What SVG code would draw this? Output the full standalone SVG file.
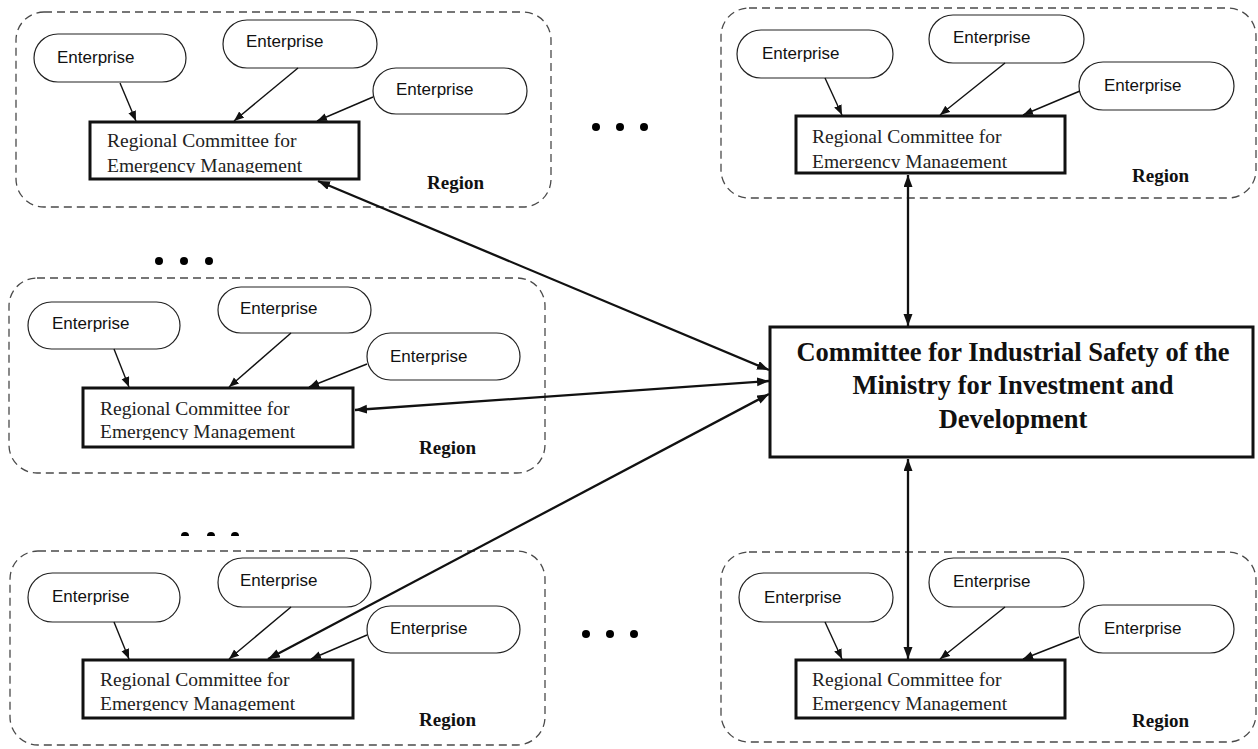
<svg xmlns="http://www.w3.org/2000/svg" width="1258" height="749" viewBox="0 0 1258 749">
<style>
.region{fill:none;stroke:#4a4a4a;stroke-width:1.3;stroke-dasharray:8 5}
.ent{fill:#fff;stroke:#222;stroke-width:1.2}
.entt{font-family:"Liberation Sans",Arial,sans-serif;font-size:17px;fill:#111}
.rc{fill:#fff;stroke:#111;stroke-width:3}
.rct{font-family:"Liberation Serif","Times New Roman",serif;font-size:19.5px;fill:#222}
.rg{font-family:"Liberation Serif","Times New Roman",serif;font-size:19px;font-weight:bold;fill:#111}
.ct{font-family:"Liberation Serif","Times New Roman",serif;font-size:26.5px;font-weight:bold;fill:#111}
.thin{stroke:#111;stroke-width:1.4;fill:none;marker-end:url(#ah)}
.thick{stroke:#111;stroke-width:2.3;fill:none;marker-end:url(#ah2);marker-start:url(#ah2)}
.dot{fill:#000}
</style>
<defs>
<marker id="ah" markerUnits="userSpaceOnUse" markerWidth="11" markerHeight="9" refX="10" refY="4" orient="auto"><path d="M0,0 L10,4 L0,8 z" fill="#111"/></marker>
<marker id="ah2" markerUnits="userSpaceOnUse" markerWidth="13" markerHeight="10" refX="12" refY="4.5" orient="auto-start-reverse"><path d="M0,0 L12,4.5 L0,9 z" fill="#111"/></marker>
<clipPath id="c1"><rect x="90" y="122" width="269" height="51"/></clipPath>
<clipPath id="c2"><rect x="796" y="116" width="269" height="52"/></clipPath>
<clipPath id="c3"><rect x="83" y="388" width="270" height="52"/></clipPath>
<clipPath id="c4"><rect x="83" y="660" width="270" height="51"/></clipPath>
<clipPath id="c5"><rect x="796" y="660" width="269" height="51"/></clipPath>
<clipPath id="cd"><rect x="150" y="480" width="140" height="56"/></clipPath>
</defs>
<rect width="1258" height="749" fill="#fff"/>

<g id="region-tl">
<rect class="region" x="16" y="12" width="535" height="195" rx="28"/>
<g id="tl-e1"><rect class="ent" x="34" y="34" width="152" height="48" rx="24"/><text class="entt" x="57" y="63">Enterprise</text></g>
<g id="tl-e2"><rect class="ent" x="223" y="20" width="154" height="48" rx="24"/><text class="entt" x="246" y="47">Enterprise</text></g>
<g id="tl-e3"><rect class="ent" x="373" y="68" width="154" height="46" rx="23"/><text class="entt" x="396" y="95">Enterprise</text></g>
<g id="tl-rc"><rect class="rc" x="90" y="122" width="269" height="57"/><text class="rct" x="107" y="147">Regional Committee for</text><text class="rct" x="107" y="172" clip-path="url(#c1)">Emergency Management</text></g>
<text class="rg" x="427" y="189">Region</text>
</g>

<g id="region-tr">
<rect class="region" x="721" y="8" width="535" height="190" rx="28"/>
<g id="tr-e1"><rect class="ent" x="737" y="30" width="156" height="48" rx="24"/><text class="entt" x="762" y="59">Enterprise</text></g>
<g id="tr-e2"><rect class="ent" x="929" y="15" width="155" height="48" rx="24"/><text class="entt" x="953" y="43">Enterprise</text></g>
<g id="tr-e3"><rect class="ent" x="1079" y="62" width="155" height="48" rx="24"/><text class="entt" x="1104" y="91">Enterprise</text></g>
<g id="tr-rc"><rect class="rc" x="796" y="116" width="269" height="57"/><text class="rct" x="812" y="143">Regional Committee for</text><text class="rct" x="812" y="168" clip-path="url(#c2)">Emergency Management</text></g>
<text class="rg" x="1132" y="182">Region</text>
</g>

<g id="region-ml">
<rect class="region" x="9" y="278" width="536" height="195" rx="28"/>
<g id="ml-e1"><rect class="ent" x="28" y="302" width="152" height="47" rx="23.5"/><text class="entt" x="52" y="329">Enterprise</text></g>
<g id="ml-e2"><rect class="ent" x="218" y="287" width="153" height="46" rx="23"/><text class="entt" x="240" y="314">Enterprise</text></g>
<g id="ml-e3"><rect class="ent" x="367" y="333" width="153" height="47" rx="23.5"/><text class="entt" x="390" y="362">Enterprise</text></g>
<g id="ml-rc"><rect class="rc" x="83" y="388" width="270" height="59"/><text class="rct" x="100" y="415">Regional Committee for</text><text class="rct" x="100" y="438" clip-path="url(#c3)">Emergency Management</text></g>
<text class="rg" x="419" y="454">Region</text>
</g>

<g id="region-bl">
<rect class="region" x="10" y="551" width="535" height="194" rx="28"/>
<g id="bl-e1"><rect class="ent" x="28" y="573" width="152" height="49" rx="24.5"/><text class="entt" x="52" y="602">Enterprise</text></g>
<g id="bl-e2"><rect class="ent" x="218" y="558" width="153" height="49" rx="24.5"/><text class="entt" x="240" y="586">Enterprise</text></g>
<g id="bl-e3"><rect class="ent" x="367" y="606" width="153" height="47" rx="23.5"/><text class="entt" x="390" y="634">Enterprise</text></g>
<g id="bl-rc"><rect class="rc" x="83" y="660" width="270" height="58"/><text class="rct" x="100" y="686">Regional Committee for</text><text class="rct" x="100" y="710" clip-path="url(#c4)">Emergency Management</text></g>
<text class="rg" x="419" y="726">Region</text>
</g>

<g id="region-br">
<rect class="region" x="721" y="552" width="535" height="190" rx="28"/>
<g id="br-e1"><rect class="ent" x="739" y="573" width="154" height="49" rx="24.5"/><text class="entt" x="764" y="603">Enterprise</text></g>
<g id="br-e2"><rect class="ent" x="929" y="558" width="155" height="49" rx="24.5"/><text class="entt" x="953" y="587">Enterprise</text></g>
<g id="br-e3"><rect class="ent" x="1079" y="605" width="155" height="48" rx="24"/><text class="entt" x="1104" y="634">Enterprise</text></g>
<g id="br-rc"><rect class="rc" x="796" y="660" width="269" height="58"/><text class="rct" x="812" y="686">Regional Committee for</text><text class="rct" x="812" y="710" clip-path="url(#c5)">Emergency Management</text></g>
<text class="rg" x="1132" y="727">Region</text>
</g>

<g id="central">
<rect class="rc" x="770" y="327" width="483" height="130"/>
<text class="ct" x="1013" y="361" text-anchor="middle">Committee for Industrial Safety of the</text>
<text class="ct" x="1013" y="394" text-anchor="middle">Ministry for Investment and</text>
<text class="ct" x="1013" y="428" text-anchor="middle">Development</text>
</g>

<g id="ellipses">
<circle class="dot" cx="596" cy="127" r="4"/><circle class="dot" cx="620" cy="127" r="4"/><circle class="dot" cx="644" cy="127" r="4"/>
<circle class="dot" cx="159" cy="261" r="4"/><circle class="dot" cx="184" cy="261" r="4"/><circle class="dot" cx="209" cy="261" r="4"/>
<g clip-path="url(#cd)"><circle class="dot" cx="185" cy="536" r="4"/><circle class="dot" cx="211" cy="536" r="4"/><circle class="dot" cx="235" cy="536" r="4"/></g>
<circle class="dot" cx="586" cy="634" r="4"/><circle class="dot" cx="610" cy="634" r="4"/><circle class="dot" cx="634" cy="634" r="4"/>
</g>

<g id="connectors">
<line class="thin" x1="120" y1="83" x2="136" y2="121"/>
<line class="thin" x1="298" y1="68" x2="234" y2="121"/>
<line class="thin" x1="373" y1="97" x2="317" y2="121"/>
<line class="thin" x1="825" y1="78" x2="842" y2="115"/>
<line class="thin" x1="1005" y1="63" x2="940" y2="115"/>
<line class="thin" x1="1080" y1="91" x2="1023" y2="115"/>
<line class="thin" x1="114" y1="349" x2="129" y2="387"/>
<line class="thin" x1="291" y1="333" x2="229" y2="387"/>
<line class="thin" x1="367" y1="364" x2="309" y2="387"/>
<line class="thin" x1="114" y1="622" x2="129" y2="659"/>
<line class="thin" x1="291" y1="607" x2="229" y2="659"/>
<line class="thin" x1="367" y1="635" x2="311" y2="659"/>
<line class="thin" x1="825" y1="622" x2="842" y2="659"/>
<line class="thin" x1="1005" y1="607" x2="940" y2="659"/>
<line class="thin" x1="1079" y1="637" x2="1023" y2="659"/>
<line class="thick" x1="318" y1="181" x2="769" y2="370"/>
<line class="thick" x1="355" y1="410" x2="769" y2="381"/>
<line class="thick" x1="268" y1="659" x2="769" y2="394"/>
<line class="thick" x1="908" y1="175" x2="908" y2="326"/>
<line class="thick" x1="908" y1="459" x2="908" y2="659"/>
</g>
</svg>
